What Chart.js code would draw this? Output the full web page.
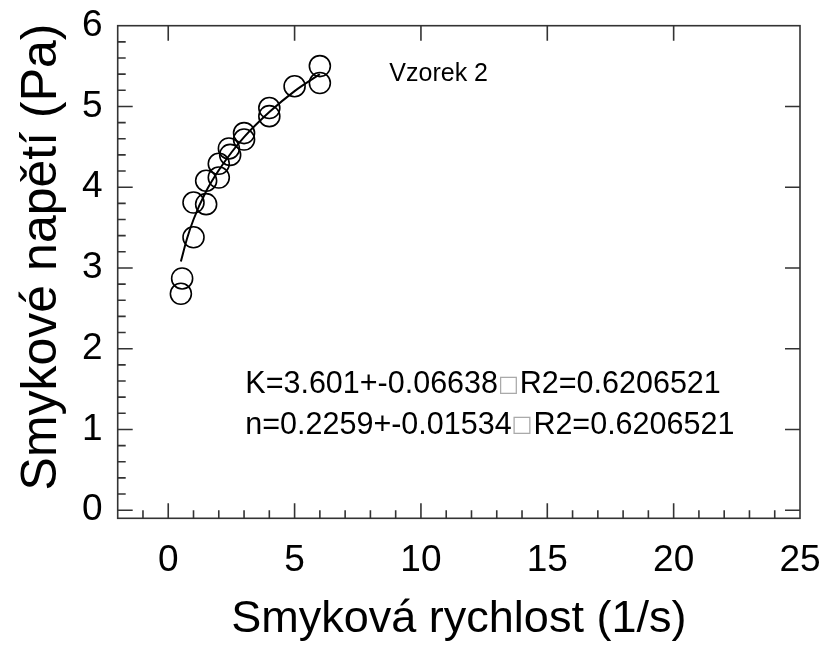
<!DOCTYPE html>
<html><head><meta charset="utf-8">
<script src="https://cdn.jsdelivr.net/npm/chart.js@4.4.1/dist/chart.umd.min.js"></script>
<style>html,body{margin:0;padding:0;background:#fff}#wrap{width:824px;height:647px}</style>
</head><body><div id="wrap"><canvas id="c" width="824" height="647"></canvas></div>
<script>
const shearRate   = [0.5, 0.55, 1.0, 1.0, 1.5, 1.5, 2.0, 2.0, 2.45, 2.4, 3.0, 3.0, 4.0, 4.0, 5.0, 6.0, 6.0];
const shearStress = [2.68, 2.87, 3.38, 3.81, 3.79, 4.08, 4.12, 4.29, 4.40, 4.48, 4.59, 4.67, 4.88, 4.98, 5.25, 5.29, 5.50];
// Fitted curve
const fitRate   = [0.5, 0.75, 1.0, 1.5, 2.0, 2.5, 3.0, 4.0, 5.0, 6.0];
const fitStress = [3.08, 3.37, 3.60, 3.95, 4.21, 4.43, 4.62, 4.93, 5.19, 5.40];
// Tick labels
const xTickLabels = [0, 5, 10, 15, 20, 25];
const yTickLabels = [0, 1, 2, 3, 4, 5, 6];
// Texts
const sampleLabel = 'Vzorek 2';
const fitTextK = ['K=3.601+-0.06638', '\u25A1', 'R2=0.6206521'];
const fitTextN = ['n=0.2259+-0.01534', '\u25A1', 'R2=0.6206521'];
const xTitle = 'Smyková rychlost (1/s)';
const yTitle = 'Smykové napětí (Pa)';

const FONT = '"Liberation Sans", Arial, Helvetica, sans-serif';
const AXC = '#333';

const zeroPad = s => { s.paddingLeft = 0; s.paddingRight = 0; s.paddingTop = 0; s.paddingBottom = 0; };

const framePlugin = {
  id: 'frame',
  afterDraw(chart) {
    const {ctx, chartArea: a, scales: {x, y}} = chart;
    ctx.save();
    ctx.strokeStyle = AXC;
    ctx.lineWidth = 1.6;
    ctx.strokeRect(a.left, a.top, a.right - a.left, a.bottom - a.top);
    ctx.beginPath();
    const MAJ = 15, MIN = 8;
    for (let v = Math.ceil(x.min); v <= x.max; v++) {
      const px = x.getPixelForValue(v);
      const major = xTickLabels.includes(v);
      if (px <= a.left + 0.5 || px >= a.right - 0.5) continue;
      ctx.moveTo(px, a.bottom); ctx.lineTo(px, a.bottom - (major ? MAJ : MIN));
      if (major) { ctx.moveTo(px, a.top); ctx.lineTo(px, a.top + MAJ); }
    }
    for (let i = 0; i <= 30; i++) {
      const v = i / 5;
      const py = y.getPixelForValue(v);
      const major = i % 5 === 0;
      if (py <= a.top + 0.5) continue;
      ctx.moveTo(a.left, py); ctx.lineTo(a.left + (major ? MAJ : MIN), py);
      if (major) { ctx.moveTo(a.right, py); ctx.lineTo(a.right - MAJ, py); }
    }
    ctx.stroke();

    // y axis title
    ctx.save();
    ctx.translate(42, 257);
    ctx.rotate(-Math.PI / 2);
    ctx.textAlign = 'center';
    ctx.textBaseline = 'middle';
    ctx.fillStyle = '#000';
    ctx.font = '50px ' + FONT;
    ctx.fillText(yTitle, 0, 0);
    ctx.restore();

    ctx.fillStyle = '#000';
    ctx.textBaseline = 'middle';
    ctx.textAlign = 'left';
    ctx.font = '25px ' + FONT;
    ctx.fillText(sampleLabel, x.getPixelForValue(8.75), y.getPixelForValue(5.4));
    const drawLine = (parts, px, py) => {
      let cx = px;
      parts.forEach((p, i) => {
        if (i === 1) {
          ctx.font = '22px "DejaVu Sans", sans-serif';
          ctx.fillStyle = '#aaa';
        } else {
          ctx.font = '30.5px ' + FONT;
          ctx.fillStyle = '#000';
        }
        ctx.fillText(p, cx, py);
        cx += ctx.measureText(p).width + (i === 1 ? 1 : 0);
      });
    };
    drawLine(fitTextK, x.getPixelForValue(3.05), y.getPixelForValue(1.55));
    drawLine(fitTextN, x.getPixelForValue(3.05), y.getPixelForValue(1.05));
    ctx.restore();
  }
};

new Chart(document.getElementById('c'), {
  type: 'scatter',
  data: {
    datasets: [
      {
        label: 'fit',
        data: fitRate.map((v, i) => ({x: v, y: fitStress[i]})),
        showLine: true,
        borderColor: '#000',
        borderWidth: 2,
        pointRadius: 0,
        cubicInterpolationMode: 'monotone',
        fill: false,
        order: 2
      },
      {
        label: sampleLabel,
        data: shearRate.map((v, i) => ({x: v, y: shearStress[i]})),
        showLine: false,
        pointRadius: 10.5,
        pointBorderWidth: 1.6,
        pointBorderColor: '#000',
        pointBackgroundColor: 'rgba(0,0,0,0)',
        order: 1
      }
    ]
  },
  options: {
    responsive: false,
    animation: false,
    devicePixelRatio: 1,
    layout: {padding: {top: 25.7, right: 24, left: 0, bottom: 0}},
    plugins: {legend: {display: false}, tooltip: {enabled: false}},
    scales: {
      x: {
        type: 'linear', min: -2, max: 25,
        afterBuildTicks: s => { s.ticks = xTickLabels.map(v => ({value: v})); },
        afterFit: s => { s.height = 647 - 518.3; zeroPad(s); },
        grid: {display: false, drawTicks: false},
        border: {display: false},
        ticks: {font: {family: FONT, size: 37}, color: '#000', padding: 20, maxRotation: 0, autoSkip: false},
        title: {display: true, text: xTitle, font: {family: FONT, size: 45}, color: '#000', padding: {top: 0, bottom: 0}}
      },
      y: {
        type: 'linear', min: -0.1, max: 6,
        afterBuildTicks: s => { s.ticks = yTickLabels.map(v => ({value: v})); },
        afterFit: s => { s.width = 117.7; zeroPad(s); },
        grid: {display: false, drawTicks: false},
        border: {display: false},
        ticks: {font: {family: FONT, size: 37}, color: '#000', padding: 15, autoSkip: false},
        title: {display: false, text: yTitle}
      }
    }
  },
  plugins: [framePlugin]
});
</script></body></html>
